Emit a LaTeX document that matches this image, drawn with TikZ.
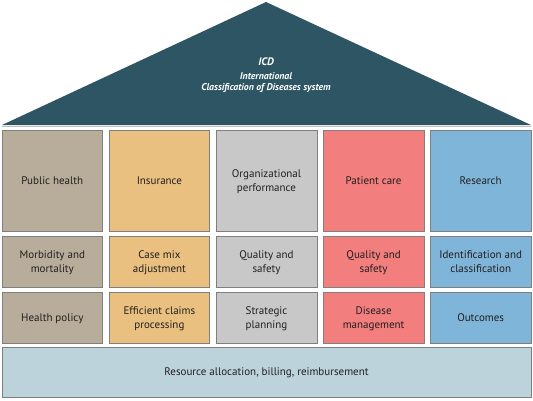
\documentclass[tikz,border=0pt]{standalone}
\usepackage{fontspec}
\setmainfont{PT Sans}
\definecolor{roof}{HTML}{2E5563}
\definecolor{cA}{HTML}{B8AD9A}
\definecolor{cB}{HTML}{E9C080}
\definecolor{cC}{HTML}{C8C8C8}
\definecolor{cD}{HTML}{F27E7E}
\definecolor{cE}{HTML}{7EB5D9}
\definecolor{cF}{HTML}{BDD3DC}
\definecolor{edge}{HTML}{7F7F7F}
\definecolor{txt}{HTML}{231F20}
\begin{document}
\begin{tikzpicture}[x=1pt,y=-1pt,
  cell/.style={draw=edge,line width=0.6pt,text=txt,align=center,text depth=0pt,font=\fontsize{11}{14}\selectfont},
  rooftext/.style={text=white,align=center,font=\fontsize{9.8}{11.5}\selectfont\itshape\bfseries}]
\useasboundingbox (0,0) rectangle (533,400);
\fill[roof] (2,125) -- (266,2) -- (531,125) -- cycle;
\draw[black!25,line width=1pt] (2,126.5) -- (531,126.5);
\node[rooftext] (icd) at (266,62) {\fontsize{10.8}{12}\selectfont ICD};
\node[rooftext] (icdname) at (266,82.5) {International\\Classification of Diseases system};
\def\cw{100.6}
\foreach \c/\col/\a/\b/\d [count=\i from 0] in {
  cA/Public health/Morbidity and\\mortality/Health policy,
  cB/Insurance/Case mix\\adjustment/Efficient claims\\processing,
  cC/Organizational\\performance/Quality and\\safety/Strategic\\planning,
  cD/Patient care/Quality and\\safety/Disease\\management,
  cE/Research/Identification and\\classification/Outcomes}{
  \pgfmathsetmacro{\xl}{2+\i*107.1}
  \pgfmathsetmacro{\xr}{\xl+\cw}
  \node[cell,fill=\c,minimum width=\cw pt,minimum height=101pt] (top\i) at ({(\xl+\xr)/2},180.5) {\col};
  \node[cell,fill=\c,minimum width=\cw pt,minimum height=51pt] (mid\i) at ({(\xl+\xr)/2},261.5) {\a};
  \node[cell,fill=\c,minimum width=\cw pt,minimum height=51pt] (bot\i) at ({(\xl+\xr)/2},317.5) {\d};
}
\node[cell,fill=cF,minimum width=529pt,minimum height=50pt] (base) at (266.5,372) {Resource allocation, billing, reimbursement};
\end{tikzpicture}
\end{document}
